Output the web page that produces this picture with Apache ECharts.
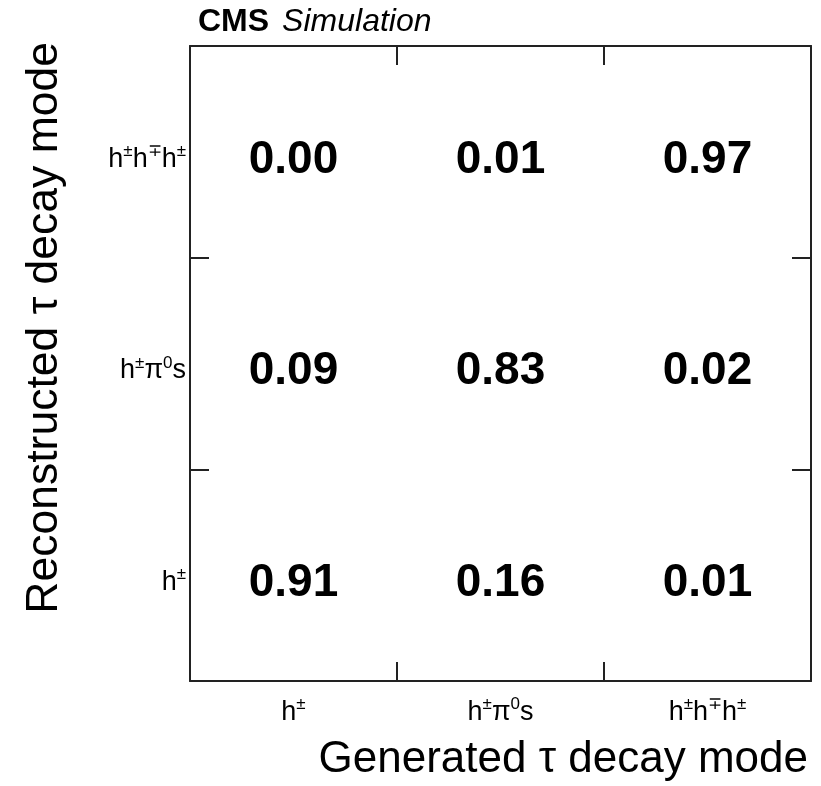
<!DOCTYPE html>
<html>
<head>
<meta charset="utf-8">
<style>
  html, body { margin: 0; padding: 0; background: #fff; }
  #chart { width: 821px; height: 786px; }
</style>
<script src="https://cdn.jsdelivr.net/npm/echarts@6/dist/echarts.min.js"></script>
</head>
<body>
<div id="chart"></div>
<script>
// Decay-mode categories (generated on x, reconstructed on y, bottom to top)
const genModes = ['h1', 'h1pi0', 'h3'];
const recoModes = ['h1', 'h1pi0', 'h3'];

// Rich-text tick labels for each mode
const modeLabels = {
  h1: '{n|h}{s|\u00b1}',
  h1pi0: '{n|h}{s|\u00b1}{n|\u03c0}{s|0}{n|s}',
  h3: '{n|h}{s|\u00b1}{n|h}{s|\u2213}{n|h}{s|\u00b1}'
};

// Fractions per reconstructed mode (rows), ordered by generated mode
const recoH1 = [0.91, 0.16, 0.01];
const recoH1Pi0 = [0.09, 0.83, 0.02];
const recoH3 = [0.00, 0.01, 0.97];

const rows = [recoH1, recoH1Pi0, recoH3];
const cells = [];
rows.forEach((row, yi) => {
  row.forEach((v, xi) => cells.push([genModes[xi], recoModes[yi], v]));
});

const FONT = '"Liberation Sans", Arial, Helvetica, sans-serif';
const LINE = '#222';

const richStyle = {
  n: { fontSize: 27, fontFamily: FONT, color: '#000', verticalAlign: 'bottom', lineHeight: 30 },
  s: { fontSize: 17, fontFamily: FONT, color: '#000', verticalAlign: 'top', lineHeight: 18 }
};

const labelStyle = {
  fontFamily: FONT,
  color: '#000',
  interval: 0,
  hideOverlap: false,
  formatter: (v) => modeLabels[v],
  rich: richStyle
};

const chart = echarts.init(document.getElementById('chart'), null, { renderer: 'canvas' });

chart.setOption({
  animation: false,
  backgroundColor: '#fff',
  grid: { left: 190, right: 10, top: 46, bottom: 105, containLabel: false },
  xAxis: [
    {
      type: 'category',
      data: genModes,
      position: 'bottom',
      axisLine: { show: true, lineStyle: { color: LINE, width: 2 } },
      axisTick: { show: true, inside: true, length: 19, lineStyle: { color: LINE, width: 2 } },
      axisLabel: Object.assign({ margin: 15 }, labelStyle),
      splitLine: { show: false }
    },
    {
      type: 'category',
      data: genModes,
      position: 'top',
      axisLine: { show: true, lineStyle: { color: LINE, width: 2 } },
      axisTick: { show: true, inside: true, length: 19, lineStyle: { color: LINE, width: 2 } },
      axisLabel: { show: false },
      splitLine: { show: false }
    }
  ],
  yAxis: [
    {
      type: 'category',
      data: recoModes,
      position: 'left',
      axisLine: { show: true, lineStyle: { color: LINE, width: 2 } },
      axisTick: { show: true, inside: true, length: 19, lineStyle: { color: LINE, width: 2 } },
      axisLabel: Object.assign({ margin: 4, padding: [12, 0, 0, 0] }, labelStyle),
      splitLine: { show: false }
    },
    {
      type: 'category',
      data: recoModes,
      position: 'right',
      axisLine: { show: true, lineStyle: { color: LINE, width: 2 } },
      axisTick: { show: true, inside: true, length: 19, lineStyle: { color: LINE, width: 2 } },
      axisLabel: { show: false },
      splitLine: { show: false }
    }
  ],
  series: [
    {
      type: 'scatter',
      xAxisIndex: 0,
      yAxisIndex: 0,
      data: cells,
      symbolSize: 1,
      itemStyle: { color: 'rgba(0,0,0,0)', opacity: 1 },
      label: {
        show: true,
        position: 'inside',
        offset: [0, 8],
        formatter: (p) => p.value[2].toFixed(2),
        fontFamily: FONT,
        fontWeight: 'bold',
        fontSize: 46,
        color: '#000',
        opacity: 1
      },
      emphasis: { disabled: true }
    }
  ],
  graphic: [
    {
      type: 'text',
      left: 198,
      top: 6,
      style: {
        text: '{b|CMS}{i|Simulation}',
        rich: {
          b: { fontFamily: FONT, fontWeight: 'bold', fontSize: 32, fill: '#000', padding: [0, 13, 0, 0] },
          i: { fontFamily: FONT, fontStyle: 'italic', fontSize: 32, fill: '#000' }
        }
      }
    },
    {
      type: 'text',
      x: 808,
      y: 760,
      style: {
        text: 'Generated \u03c4 decay mode',
        fontFamily: FONT,
        fontSize: 44,
        fill: '#000',
        align: 'right',
        verticalAlign: 'middle'
      }
    },
    {
      type: 'text',
      x: 45,
      y: 42,
      rotation: Math.PI / 2,
      style: {
        text: 'Reconstructed \u03c4 decay mode',
        fontFamily: FONT,
        fontSize: 44.5,
        fill: '#000',
        align: 'right',
        verticalAlign: 'middle'
      }
    }
  ]
});
</script>
</body>
</html>
